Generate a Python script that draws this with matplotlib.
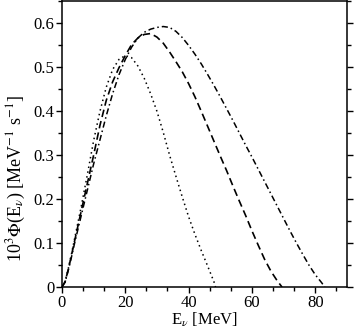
import numpy as np
import matplotlib.pyplot as plt
from matplotlib.ticker import MultipleLocator

plt.rcParams['font.family'] = 'Liberation Serif'
plt.rcParams['mathtext.fontset'] = 'stix'

# dotted curve
e_dot = [0, 1, 2, 3, 4, 6, 8, 10, 12, 14, 16, 18, 20, 22, 24, 26, 28, 30, 32, 34,
         36, 38, 40, 42, 44, 46, 48, 48.5]
phi_dot = [0, 0.013, 0.042, 0.075, 0.11, 0.18, 0.255, 0.333, 0.40, 0.455, 0.495,
           0.518, 0.527, 0.522, 0.503, 0.475, 0.44, 0.40, 0.352, 0.30, 0.252,
           0.205, 0.16, 0.12, 0.083, 0.048, 0.012, 0]

# dashed curve
e_dash = [0, 1, 2, 3, 4, 6, 8, 10, 12, 14, 16, 18, 20, 22, 24, 26, 28, 30, 32, 34,
          36, 38, 40, 42, 44, 46, 48, 50, 52, 54, 56, 58, 60, 62, 64, 66, 68, 69.5]
phi_dash = [0, 0.012, 0.04, 0.072, 0.105, 0.17, 0.235, 0.30, 0.368, 0.425, 0.467,
            0.499, 0.527, 0.552, 0.567, 0.575, 0.577, 0.569, 0.555, 0.535, 0.513,
            0.49, 0.463, 0.433, 0.40, 0.366, 0.332, 0.298, 0.265, 0.23, 0.196,
            0.163, 0.128, 0.095, 0.063, 0.036, 0.014, 0]

# dash-dot curve
e_dd = [0, 1, 2, 3, 4, 6, 8, 10, 12, 14, 16, 18, 20, 22, 24, 26, 28, 30, 32, 34,
        36, 38, 40, 42, 44, 46, 48, 50, 52, 54, 56, 58, 60, 62, 64, 66, 68, 70,
        72, 74, 76, 78, 80, 82, 83]
phi_dd = [0, 0.011, 0.038, 0.068, 0.10, 0.16, 0.22, 0.28, 0.335, 0.39, 0.44,
          0.483, 0.518, 0.546, 0.567, 0.58, 0.587, 0.591, 0.593, 0.591, 0.582,
          0.568, 0.55, 0.53, 0.508, 0.484, 0.459, 0.433, 0.406, 0.379, 0.351,
          0.323, 0.296, 0.268, 0.24, 0.212, 0.184, 0.156, 0.128, 0.101, 0.075,
          0.05, 0.028, 0.01, 0]

fig = plt.figure(figsize=(3.54, 3.32), dpi=100)
ax = fig.add_axes([0.175, 0.1355, 0.805, 0.86])

ax.plot(e_dot, phi_dot, color='black', lw=1.1, linestyle=(0, (1, 2.2)))
ax.plot(e_dash, phi_dash, color='black', lw=1.2, linestyle=(0, (4.5, 2.5)))
ax.plot(e_dd, phi_dd, color='black', lw=1.1, linestyle=(0, (4, 2, 1, 2)))

ax.set_xlim(0, 90)
ax.set_ylim(0, 0.65)
ax.xaxis.set_major_locator(MultipleLocator(20))
ax.xaxis.set_minor_locator(MultipleLocator(20 / 3))
ax.yaxis.set_major_locator(MultipleLocator(0.1))
ax.yaxis.set_minor_locator(MultipleLocator(0.05))
ax.set_yticks([0, 0.1, 0.2, 0.3, 0.4, 0.5, 0.6])
ax.set_yticklabels(['0', '0.1', '0.2', '0.3', '0.4', '0.5', '0.6'])

ax.tick_params(which='both', direction='out', left=True, right=True, top=False,
               bottom=True, labelsize=12, width=1.0, pad=1.5)
ax.tick_params(which='major', length=4)
ax.tick_params(which='minor', length=3)
for s in ax.spines.values():
    s.set_linewidth(1.1)

ax.set_xlabel(r'E$_\nu$ [MeV]', fontsize=12, labelpad=0)
ax.set_ylabel(r'10$^3$$\Phi$(E$_\nu$) [MeV$^{-1}$ s$^{-1}$]', fontsize=13)
ax.yaxis.set_label_coords(-0.12, 0.38)

fig.savefig('out.png', dpi=100)
